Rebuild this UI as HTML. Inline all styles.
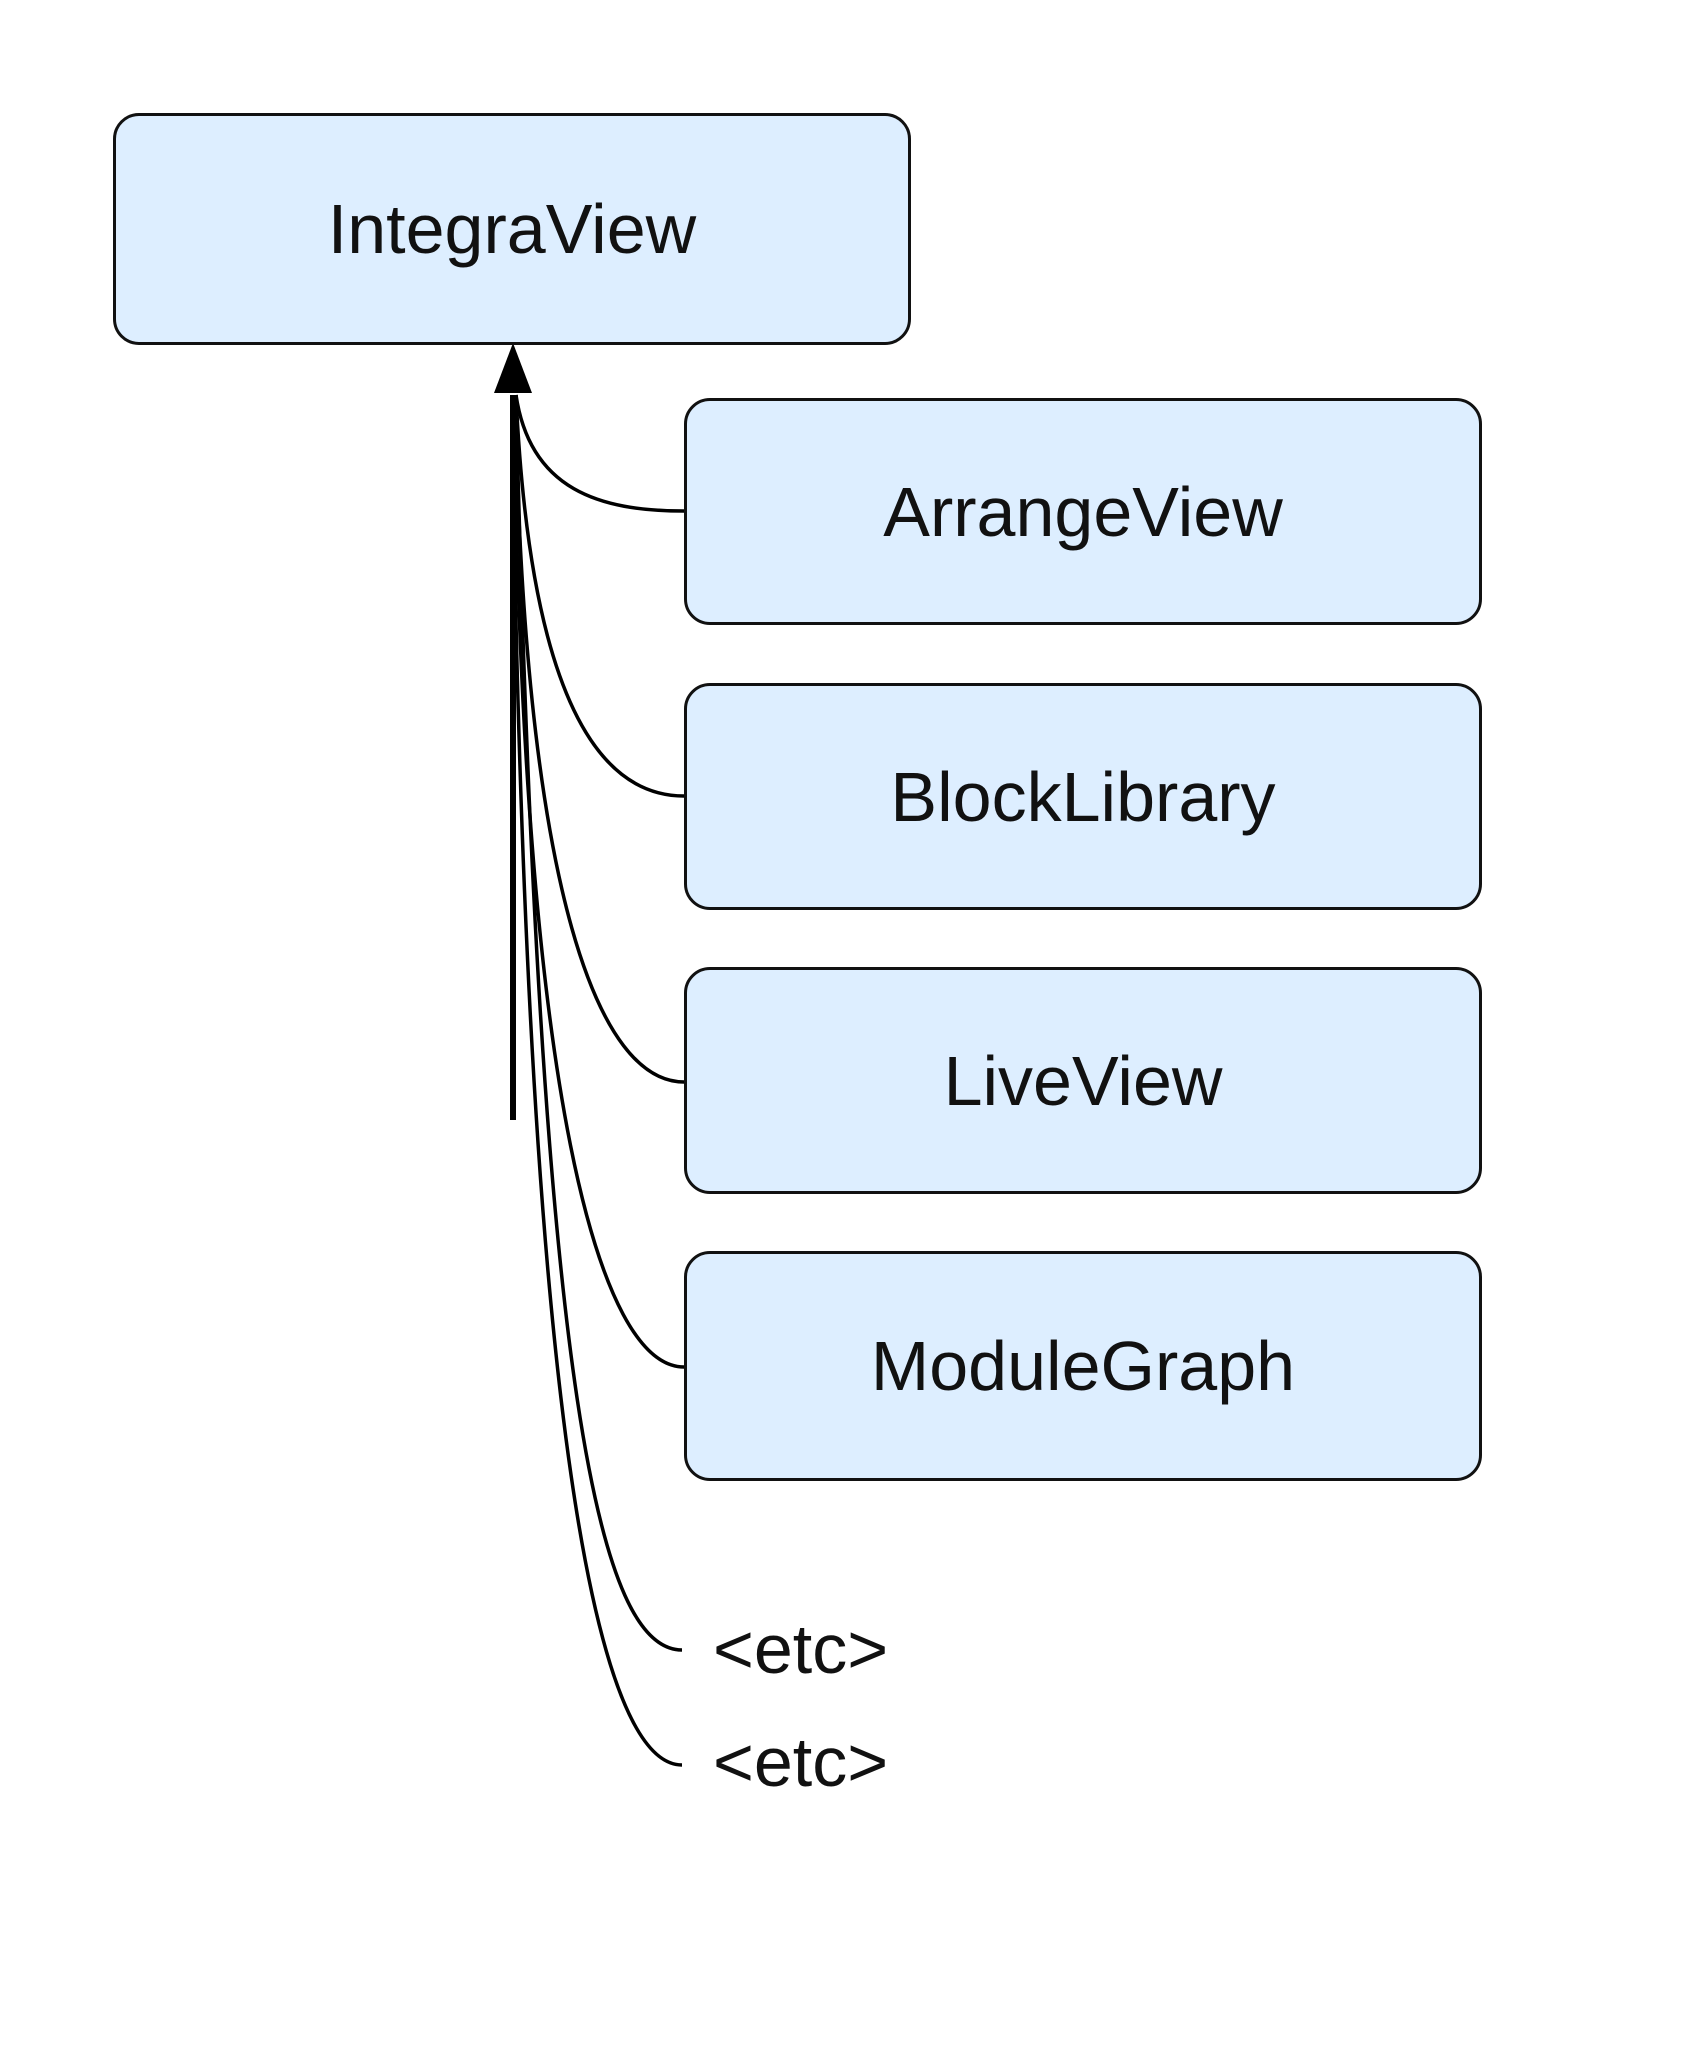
<!DOCTYPE html>
<html><head><meta charset="utf-8"><style>
html,body{margin:0;padding:0;background:#fff;}
body{width:1707px;height:2048px;position:relative;overflow:hidden;font-family:"Liberation Sans",Arial,sans-serif;}
.b{position:absolute;background:#ddeeff;border:3px solid #111;border-radius:26px;box-sizing:border-box;display:flex;align-items:center;justify-content:center;font-size:70px;color:#111;}
.t{position:absolute;font-size:70px;color:#111;line-height:1;}
svg{position:absolute;left:0;top:0;}
</style></head><body>
<svg width="1707" height="2048" viewBox="0 0 1707 2048">
<g fill="none" stroke="#000" stroke-width="3.5">
<path d="M684,511 C600,511 530,490 516,395"/>
<path d="M684,796 C600,796 530,700 516,395"/>
<path d="M684,1082 C600,1082 525,900 515,395"/>
<path d="M684,1367 C600,1367 522,1100 514,395"/>
<path d="M682,1650 C600,1650 540,1400 516,395"/>
<path d="M682,1765 C600,1765 525,1450 512,395"/>
<path d="M513,395 L513,1120" stroke-width="6"/>
</g>
<polygon points="513,343 494,393 532,393" fill="#000"/>
</svg>
<div class="b" style="left:113px;top:113px;width:798px;height:232px;">IntegraView</div>
<div class="b" style="left:684px;top:398px;width:798px;height:227px;">ArrangeView</div>
<div class="b" style="left:684px;top:683px;width:798px;height:227px;">BlockLibrary</div>
<div class="b" style="left:684px;top:967px;width:798px;height:227px;">LiveView</div>
<div class="b" style="left:684px;top:1251px;width:798px;height:230px;">ModuleGraph</div>
<div class="t" style="left:713px;top:1614px;">&lt;etc&gt;</div>
<div class="t" style="left:713px;top:1727px;">&lt;etc&gt;</div>
</body></html>
